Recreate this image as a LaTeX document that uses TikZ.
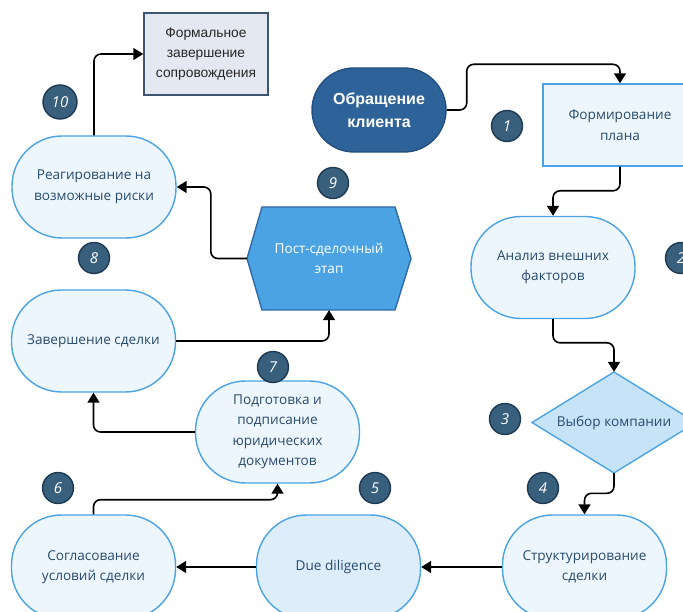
\documentclass[tikz,border=0pt]{standalone}
\usepackage{fontspec}
\setmainfont{Open Sans}
\newfontfamily\arialf{Liberation Sans}
\usetikzlibrary{arrows.meta,calc,shapes.geometric}
\definecolor{lightfill}{HTML}{EEF6FD}
\definecolor{ddfill}{HTML}{DDEDFA}
\definecolor{diafill}{HTML}{C6E3F7}
\definecolor{nodeborder}{HTML}{4BA3E3}
\definecolor{nodetext}{HTML}{284A6C}
\definecolor{obrfill}{HTML}{2D6398}
\definecolor{obrborder}{HTML}{235080}
\definecolor{hexfill}{HTML}{4BA3E3}
\definecolor{hexborder}{HTML}{2E6AA6}
\definecolor{formfill}{HTML}{E4E8F0}
\definecolor{formborder}{HTML}{3E5570}
\definecolor{badgefill}{HTML}{385F7C}
\definecolor{badgeborder}{HTML}{1D3A52}
\tikzset{
  txt/.style={align=center, font=\fontsize{13.6}{20.5}\selectfont, text=nodetext},
  pill/.style={txt, draw=nodeborder, line width=1.4pt, fill=lightfill, rounded corners=50pt,
    minimum width=164pt, minimum height=102pt, inner sep=0pt},
  planbox/.style={txt, draw=nodeborder, line width=1.4pt, fill=lightfill,
    minimum width=154pt, minimum height=82pt, inner sep=0pt},
  dianode/.style={txt, minimum width=164pt, minimum height=101pt, inner sep=0pt},
  hexnode/.style={align=center, font=\fontsize{13.6}{20.5}\selectfont, text=white,
    minimum width=164pt, minimum height=103pt, inner sep=0pt},
  obrbox/.style={align=center, font=\arialf\bfseries\fontsize{16}{23}\selectfont, text=white,
    draw=obrborder, line width=1.4pt, fill=obrfill, rounded corners=42pt,
    minimum width=134pt, minimum height=84pt, inner sep=0pt},
  formbox/.style={align=center, font=\arialf\fontsize{13.8}{20}\selectfont, text=black!85,
    draw=formborder, line width=1.4pt, fill=formfill,
    minimum width=124pt, minimum height=82pt, inner sep=0pt},
  badge/.style={circle, fill=badgefill, draw=badgeborder, line width=1.4pt, minimum size=31pt,
    inner sep=0pt, text=white, font=\itshape\fontsize{15}{15}\selectfont},
  conn/.style={draw=black, line width=1.6pt, rounded corners=7pt,
    -{Triangle[length=10pt,width=12pt]}}
}
\begin{document}
\begin{tikzpicture}[x=1pt,y=-1pt]
\useasboundingbox (0,0) rectangle (683,612);
% hexagon body
\fill[hexfill, draw=hexborder, line width=1.4pt]
  (247,258.5) -- (262,207) -- (395,207) -- (411,258.5) -- (395,310) -- (262,310) -- cycle;
% diamond body
\fill[diafill, draw=nodeborder, line width=1.4pt]
  (532,422.5) -- (614,372) -- (696,422.5) -- (614,473) -- cycle;
\node[obrbox] (obr) at (379,110) {Обращение\\клиента};
\node[planbox] (plan) at (620,125) {Формирование\\плана};
\node[pill] (anal) at (553,267.5) {Анализ внешних\\факторов};
\node[dianode] (dia) at (614,422.5) {Выбор компании};
\node[pill, minimum height=104pt] (str) at (584.5,567) {Структурирование\\сделки};
\node[pill, minimum height=104pt, fill=ddfill] (dd) at (338.5,567) {Due diligence};
\node[pill, minimum height=104pt] (sog) at (93.5,567) {Согласование\\условий сделки};
\node[pill] (pod) at (277.5,432) {Подготовка и\\подписание\\юридических\\документов};
\node[pill] (zav) at (93.5,341) {Завершение сделки};
\node[hexnode] (hex) at (329,258.5) {Пост-сделочный\\этап};
\node[pill] (rea) at (94,187) {Реагирование на\\возможные риски};
\node[formbox] (form) at (206,54) {Формальное\\завершение\\сопровождения};
% badges
\node[badge] (b1) at (507,126) {1};
\node[badge] (b2) at (681,258) {2};
\node[badge] (b3) at (505,419) {3};
\node[badge] (b4) at (543,488) {4};
\node[badge] (b5) at (375,488) {5};
\node[badge] (b6) at (58,488) {6};
\node[badge] (b7) at (273,367) {7};
\node[badge] (b8) at (94,258) {8};
\node[badge] (b9) at (333,183) {9};
\node[badge, minimum size=34pt] (b10) at (60,102) {10};
% connectors
\draw[conn] (obr.east) -- ++(20,0) |- ($(plan.north)+(0,-19)$) -- (plan.north);
\draw[conn] (plan.south) |- ($(anal.north)+(0,-25)$) -- (anal.north);
\draw[conn] (anal.south) |- ($(dia.north)+(0,-29)$) -- (dia.north);
\draw[conn] (dia.south) |- ($(str.north)+(0,-21)$) -- (str.north);
\draw[conn] (str.west) -- (dd.east);
\draw[conn] (dd.west) -- (sog.east);
\draw[conn] (sog.north) |- ($(pod.south)+(0,16)$) -- (pod.south);
\draw[conn] (pod.west) -| (zav.south);
\draw[conn] (zav.east) -| (hex.south);
\draw[conn] (hex.west) -- ++(-36,0) |- (rea.east);
\draw[conn] (rea.north) |- (form.west);
\end{tikzpicture}
\end{document}
